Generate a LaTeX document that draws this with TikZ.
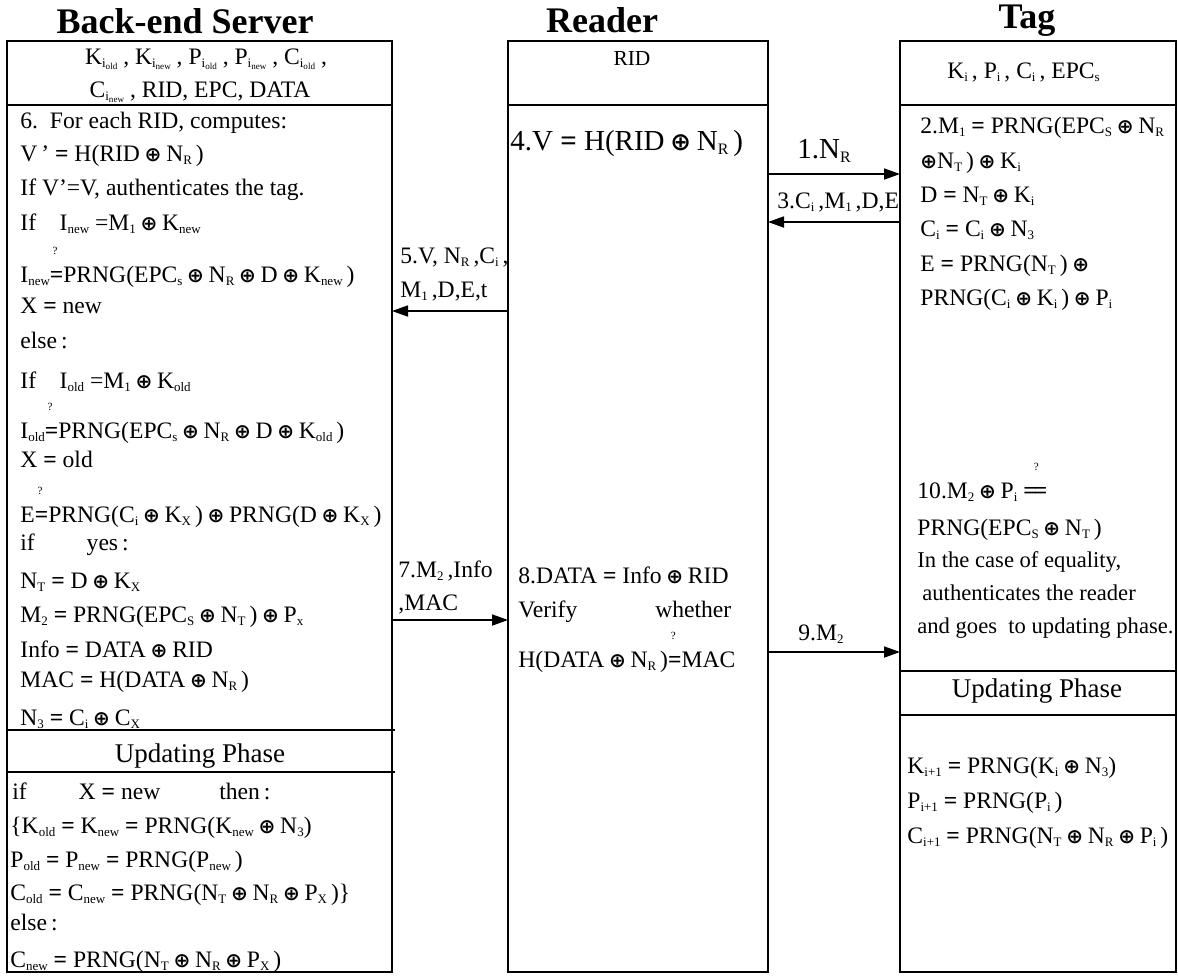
\documentclass[tikz,border=0pt]{standalone}
\usepackage{graphicx}
\usepackage{fontspec}
\setmainfont{Liberation Serif}
\newfontfamily\symf{DejaVu Sans}
\usetikzlibrary{arrows.meta}

\newcommand\body{\fontsize{11.8}{14}\selectfont}
\newcommand\lo[1]{\raisebox{-0.3ex}{\scalebox{0.55}{#1}}}
\newcommand\llo[1]{\raisebox{-0.3ex}{\scalebox{0.7}{#1}}}
\newcommand\ox{{\symf\bfseries\scalebox{0.85}{⊕}}}
\newcommand\xo{\hspace{0.2em}\ox\hspace{0.2em}}
\newcommand\eq{{\bfseries =}}
\newcommand\qmark{\raisebox{14pt}{\fontsize{5.5}{6}\selectfont ?}}
\newcommand\qeq{\rlap{\hspace{0.12em}\qmark}\eq}
\newcommand\qeqq{\rlap{\hspace{0.45em}\qmark}{\bfseries =\kern-0.12em=}}

\begin{document}
\begin{tikzpicture}[x=0.5pt,y=-0.5pt,
  box/.style={line width=0.9pt},
  msg/.style={line width=0.9pt,-{Triangle[length=8pt,width=5.5pt]}},
  txt/.style={anchor=base west,inner sep=0pt,font=\body},
  small/.style={anchor=base west,inner sep=0pt,font=\fontsize{11.3}{13}\selectfont},
  big/.style={anchor=base west,inner sep=0pt,font=\fontsize{14.5}{16}\selectfont},
  ttl/.style={anchor=base,inner sep=0pt,font=\bfseries\fontsize{18}{20}\selectfont},
  phase/.style={anchor=base,inner sep=0pt,font=\fontsize{13.5}{15}\selectfont}]
\useasboundingbox (0,0) rectangle (1178,976);

\coordinate (srvTL) at (7,41);
\coordinate (srvBR) at (392,972);
\coordinate (rdrTL) at (508,41);
\coordinate (rdrBR) at (768,972);
\coordinate (tagTL) at (900,41);
\coordinate (tagBR) at (1176,972);

\draw[box] (srvTL) rectangle (srvBR);
\draw[box] (rdrTL) rectangle (rdrBR);
\draw[box] (tagTL) rectangle (tagBR);
\draw[box] (srvTL |- 0,105) -- (srvBR |- 0,105);
\draw[box] (rdrTL |- 0,105) -- (rdrBR |- 0,105);
\draw[box] (tagTL |- 0,105) -- (tagBR |- 0,105);
\draw[box] (srvTL |- 0,730) -- (395,730);
\draw[box] (srvTL |- 0,772) -- (395,772);
\draw[box] (tagTL |- 0,671) -- (tagBR |- 0,671);
\draw[box] (tagTL |- 0,715) -- (tagBR |- 0,715);

\node[ttl] (srvT) at (185,33) {Back-end Server};
\node[ttl] (rdrT) at (602,32) {Reader};
\node[ttl] (tagT) at (1027,28) {Tag};

% back-end server
\node[txt,anchor=base] (srvH1) at (206,64) {K\lo{i\llo{old}} , K\lo{i\llo{new}} , P\lo{i\llo{old}} , P\lo{i\llo{new}} , C\lo{i\llo{old}} ,};
\node[txt,anchor=base] (srvH2) at (200,97) {C\lo{i\llo{new}} , RID, EPC, DATA};
\node[txt] (s1) at (20,128) {6.\ \ For each RID, computes:};
\node[txt] (s2) at (20,161) {V\,' \eq{} H(RID\xo N\lo{R}\,)};
\node[txt] (s3) at (20,195) {If V'=V, authenticates the tag.};
\node[txt] (s4) at (20,230) {If\quad I\lo{new} =M\lo{1}\xo K\lo{new}};
\node[txt] (s5) at (20,282) {I\lo{new}\qeq PRNG(EPC\lo{s}\xo N\lo{R}\xo D\xo K\lo{new}\,)};
\node[txt] (s6) at (20,313) {X \eq{} new};
\node[txt] (s7) at (20,348) {else\,:};
\node[txt] (s8) at (20,388) {If\quad I\lo{old} =M\lo{1}\xo K\lo{old}};
\node[txt] (s9) at (20,438) {I\lo{old}\qeq PRNG(EPC\lo{s}\xo N\lo{R}\xo D\xo K\lo{old}\,)};
\node[txt] (s10) at (20,467) {X \eq{} old};
\node[txt] (s11) at (20,522) {E\qeq PRNG(C\lo{i}\xo K\lo{X}\,)\xo PRNG(D\xo K\lo{X}\,)};
\node[txt] (s12) at (20,550) {if\hspace{2.2em}yes\,:};
\node[txt] (s13) at (20,588) {N\lo{T} \eq{} D\xo K\lo{X}};
\node[txt] (s14) at (20,622) {M\lo{2} \eq{} PRNG(EPC\lo{S}\xo N\lo{T}\,)\xo P\lo{x}};
\node[txt] (s15) at (20,657) {Info \eq{} DATA\xo RID};
\node[txt] (s16) at (20,687) {MAC \eq{} H(DATA\xo N\lo{R}\,)};
\node[txt] (s17) at (20,725) {N\lo{3} \eq{} C\lo{i}\xo C\lo{X}};
\node[phase] (srvU) at (200,762) {Updating Phase};
\node[txt] (su1) at (12,799) {if\hspace{2.2em}X \eq{} new\hspace{2.5em}then\,:};
\node[txt] (su2) at (10,833) {\{K\lo{old} \eq{} K\lo{new} \eq{} PRNG(K\lo{new}\xo N\lo{3})};
\node[txt] (su3) at (10,867) {P\lo{old} \eq{} P\lo{new} \eq{} PRNG(P\lo{new}\,)};
\node[txt] (su4) at (10,900) {C\lo{old} \eq{} C\lo{new} \eq{} PRNG(N\lo{T}\xo N\lo{R}\xo P\lo{X}\,)\}};
\node[txt] (su5) at (10,930) {else\,:};
\node[txt] (su6) at (10,967) {C\lo{new} \eq{} PRNG(N\lo{T}\xo N\lo{R}\xo P\lo{X}\,)};

% reader
\node[txt,anchor=base,font=\fontsize{10.7}{12}\selectfont] (rdrH) at (632,65) {RID};
\node[big] (r4) at (510,150) {4.V \eq{} H(RID\xo N\lo{R}\,)};
\node[txt] (r8a) at (518,583) {8.DATA \eq{} Info\xo RID};
\node[txt] (r8b) at (518,617) {Verify\hspace{3.3em}whether};
\node[txt] (r8c) at (518,667) {H(DATA\xo N\lo{R}\,)\qeq MAC};

% tag
\node[txt] (tagH) at (947,78) {K\lo{i}\,, P\lo{i}\,, C\lo{i}\,, EPC\lo{s}};
\node[txt] (g1) at (920,133) {2.M\lo{1} \eq{} PRNG(EPC\lo{S}\xo N\lo{R}};
\node[txt] (g2) at (920,168) {\ox N\lo{T}\,)\xo K\lo{i}};
\node[txt] (g3) at (920,202) {D \eq{} N\lo{T}\xo K\lo{i}};
\node[txt] (g4) at (920,236) {C\lo{i} \eq{} C\lo{i}\xo N\lo{3}};
\node[txt] (g5) at (920,271) {E \eq{} PRNG(N\lo{T}\,)\xo};
\node[txt] (g6) at (920,305) {PRNG(C\lo{i}\xo K\lo{i}\,)\xo P\lo{i}};
\node[txt] (g7) at (917,498) {10.M\lo{2}\xo P\lo{i} \qeqq};
\node[txt] (g8) at (917,535) {PRNG(EPC\lo{S}\xo N\lo{T}\,)};
\node[small] (g9) at (917,567) {In the case of equality,};
\node[small] (g10) at (922,600) {authenticates the reader};
\node[small] (g11) at (917,633) {and goes\ \ to updating phase.};
\node[phase] (tagU) at (1037,697) {Updating Phase};
\node[txt] (gu1) at (907,773) {K\lo{i+1} \eq{} PRNG(K\lo{i}\xo N\lo{3})};
\node[txt] (gu2) at (907,808) {P\lo{i+1} \eq{} PRNG(P\lo{i}\,)};
\node[txt] (gu3) at (907,843) {C\lo{i+1} \eq{} PRNG(N\lo{T}\xo N\lo{R}\xo P\lo{i}\,)};

% messages
\coordinate (m1) at (0,174);
\coordinate (m3) at (0,222);
\coordinate (m5) at (0,311);
\coordinate (m7) at (0,620);
\coordinate (m9) at (0,652);
\draw[msg] (rdrBR |- m1) -- (tagTL |- m1);
\draw[msg] (tagTL |- m3) -- (rdrBR |- m3);
\draw[msg] (rdrTL |- m5) -- (srvBR |- m5);
\draw[msg] (srvBR |- m7) -- (rdrTL |- m7);
\draw[msg] (rdrBR |- m9) -- (tagTL |- m9);
\node[big] (l1) at (797,158) {1.N\lo{R}};
\node[txt] (l3) at (777,208) {3.C\lo{i}\,,M\lo{1}\,,D,E};
\node[txt] (l5a) at (400,263) {5.V, N\lo{R}\,,C\lo{i}\,,};
\node[txt] (l5b) at (400,297) {M\lo{1}\,,D,E,t};
\node[txt] (l7a) at (398,577) {7.M\lo{2}\,,Info};
\node[txt] (l7b) at (398,610) {,MAC};
\node[txt] (l9) at (798,640) {9.M\lo{2}};
\end{tikzpicture}
\end{document}
